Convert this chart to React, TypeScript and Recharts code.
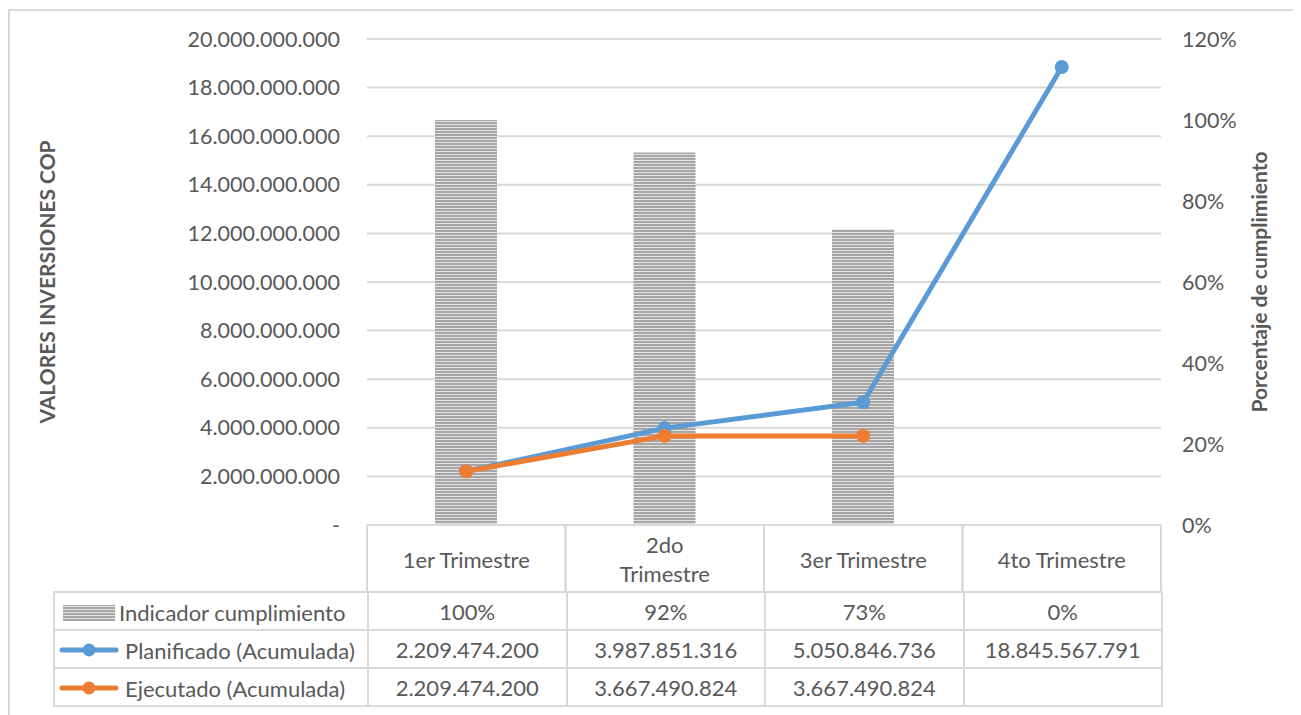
import React from "react";
import { Bar, CartesianGrid, ComposedChart, Line, XAxis, YAxis } from "recharts";

const categories = ["1er Trimestre", "2do\nTrimestre", "3er Trimestre", "4to Trimestre"];
const indicador = [1.0, 0.92, 0.73, 0];
const planificado = [2209474200, 3987851316, 5050846736, 18845567791];
const ejecutado: (number | null)[] = [2209474200, 3667490824, 3667490824, null];
const leftTicks = [0, 2e9, 4e9, 6e9, 8e9, 10e9, 12e9, 14e9, 16e9, 18e9, 20e9];
const rightTicks = [0, 0.2, 0.4, 0.6, 0.8, 1.0, 1.2];

const data = categories.map((c, i) => ({
  cat: c,
  ind: indicador[i],
  plan: planificado[i],
  ejec: ejecutado[i],
}));

const FONT = "Lato, 'Open Sans', sans-serif";
const TXT = "#595959";
const GRID = "#d9d9d9";
const BLUE = "#5b9bd5";
const ORANGE = "#ed7d31";

// plot geometry (container coords, origin at 8,8)
const PLOT_L = 359;
const PLOT_R = 1153;
const PLOT_T = 31;
const PLOT_B = 517;
const BAND = (PLOT_R - PLOT_L) / categories.length;

const fmtNum = (n: number) => String(Math.round(n)).replace(/\B(?=(\d{3})+(?!\d))/g, ".");
const fmtPct = (v: number) => `${Math.round(v * 100)}%`;

function HeaderTick({ x, payload }: any) {
  const lines = String(payload.value).split("\n");
  const cy = PLOT_B + 34;
  const y0 = cy - ((lines.length - 1) * 29) / 2;
  return (
    <g>
      <line x1={x - BAND / 2} x2={x - BAND / 2} y1={PLOT_B} y2={PLOT_B + 67} stroke={GRID} strokeWidth={2} />
      <line x1={x + BAND / 2} x2={x + BAND / 2} y1={PLOT_B} y2={PLOT_B + 67} stroke={GRID} strokeWidth={2} />
      {lines.map((l, i) => (
        <text key={i} x={x} y={y0 + i * 29} textAnchor="middle" dominantBaseline="central" fill={TXT} fontSize={22} fontFamily={FONT}>
          {l}
        </text>
      ))}
    </g>
  );
}

function AxisTitle({ x, text }: { x: number; text: string }) {
  const cy = (PLOT_T + PLOT_B) / 2;
  return (
    <text x={x} y={cy} transform={`rotate(-90 ${x} ${cy})`} textAnchor="middle" dominantBaseline="central" fill={TXT} fontSize={21} fontWeight="bold" fontFamily={FONT}>
      {text}
    </text>
  );
}

function Marker({ kind }: { kind: "bar" | "plan" | "ejec" }) {
  if (kind === "bar") {
    return (
      <svg width={56} height={17} style={{ verticalAlign: "middle" }}>
        <defs>
          <pattern id="stripesLeg" width={4} height={3} patternUnits="userSpaceOnUse">
            <rect width={4} height={3} fill="#e2e2e2" />
            <rect width={4} height={2} fill="#a6a6a6" />
          </pattern>
        </defs>
        <rect x={2} y={1} width={52} height={16} fill="url(#stripesLeg)" />
      </svg>
    );
  }
  const c = kind === "plan" ? BLUE : ORANGE;
  return (
    <svg width={60} height={16} style={{ verticalAlign: "middle" }}>
      <line x1={3} x2={57} y1={8} y2={8} stroke={c} strokeWidth={5} strokeLinecap="round" />
      <circle cx={30} cy={8} r={6.5} fill={c} />
    </svg>
  );
}

export default function App() {
  const rows: { kind: "bar" | "plan" | "ejec"; name: string; vals: string[] }[] = [
    { kind: "bar", name: "Indicador cumplimiento", vals: indicador.map(fmtPct) },
    { kind: "plan", name: "Planificado (Acumulada)", vals: planificado.map(fmtNum) },
    { kind: "ejec", name: "Ejecutado (Acumulada)", vals: ejecutado.map((v) => (v == null ? "" : fmtNum(v))) },
  ];
  const cell: React.CSSProperties = {
    border: `2px solid ${GRID}`,
    height: 36,
    padding: 0,
    textAlign: "center",
    color: TXT,
    fontSize: 22,
    fontFamily: FONT,
    whiteSpace: "nowrap",
    boxSizing: "border-box",
  };

  return (
    <div style={{ position: "relative", width: 1293, height: 707, overflow: "hidden", background: "#fff" }}>
      <div style={{ position: "absolute", left: 0, top: 1, width: 1320, height: 760, border: `2px solid ${GRID}`, boxSizing: "border-box" }} />
      <ComposedChart
        width={1293}
        height={707}
        data={data}
        margin={{ top: PLOT_T, left: 9, right: 1293 - PLOT_R - 130, bottom: 707 - PLOT_B - 67 }}
        style={{ position: "absolute", left: 0, top: 0 }}
      >
        <defs>
          <pattern id="stripes" width={4} height={3} patternUnits="userSpaceOnUse">
            <rect width={4} height={3} fill="#e2e2e2" />
            <rect width={4} height={2} fill="#a6a6a6" />
          </pattern>
        </defs>
        <CartesianGrid yAxisId="left" vertical={false} stroke={GRID} strokeWidth={2} />
        <XAxis
          dataKey="cat"
          height={67}
          interval={0}
          axisLine={{ stroke: GRID, strokeWidth: 2 }}
          tickLine={false}
          tick={<HeaderTick />}
        />
        <YAxis
          yAxisId="left"
          orientation="left"
          width={PLOT_L - 9}
          domain={[0, 20e9]}
          ticks={leftTicks}
          axisLine={false}
          tickLine={false}
          tickMargin={21}
          tickFormatter={(v: number) => (v === 0 ? "-" : fmtNum(v))}
          tick={{ fill: TXT, fontSize: 21.5, fontFamily: FONT }}
          label={{ content: () => <AxisTitle x={38} text="VALORES INVERSIONES COP" /> }}
        />
        <YAxis
          yAxisId="right"
          orientation="right"
          width={130}
          domain={[0, 1.2]}
          ticks={rightTicks}
          axisLine={false}
          tickLine={false}
          tickMargin={15}
          tickFormatter={fmtPct}
          tick={{ fill: TXT, fontSize: 21.5, fontFamily: FONT, textAnchor: "start" }}
          label={{ content: () => <AxisTitle x={1250} text="Porcentaje de cumplimiento" /> }}
        />
        <Bar yAxisId="right" dataKey="ind" barSize={62} fill="url(#stripes)" isAnimationActive={false} />
        <Line
          yAxisId="left"
          dataKey="plan"
          stroke={BLUE}
          strokeWidth={5}
          dot={{ r: 7, fill: BLUE, stroke: "none" }}
          activeDot={false}
          isAnimationActive={false}
        />
        <Line
          yAxisId="left"
          dataKey="ejec"
          stroke={ORANGE}
          strokeWidth={5}
          dot={{ r: 7, fill: ORANGE, stroke: "none" }}
          activeDot={false}
          isAnimationActive={false}
        />
      </ComposedChart>
      <table
        style={{
          position: "absolute",
          left: 45,
          top: PLOT_B + 66,
          width: PLOT_R - 45 + 1,
          borderCollapse: "collapse",
          tableLayout: "fixed",
        }}
      >
        <colgroup>
          <col style={{ width: PLOT_L - 45 }} />
          {categories.map((_, i) => (
            <col key={i} style={{ width: BAND }} />
          ))}
        </colgroup>
        <tbody>
          {rows.map((r) => (
            <tr key={r.name} style={{ height: 38 }}>
              <td style={{ ...cell, textAlign: "left", paddingLeft: r.kind === "bar" ? 6 : 4 }}>
                <Marker kind={r.kind} />
                <span style={{ marginLeft: r.kind === "bar" ? 2 : 6, verticalAlign: "middle" }}>{r.name}</span>
              </td>
              {r.vals.map((v, i) => (
                <td key={i} style={cell}>
                  {v}
                </td>
              ))}
            </tr>
          ))}
        </tbody>
      </table>
    </div>
  );
}
